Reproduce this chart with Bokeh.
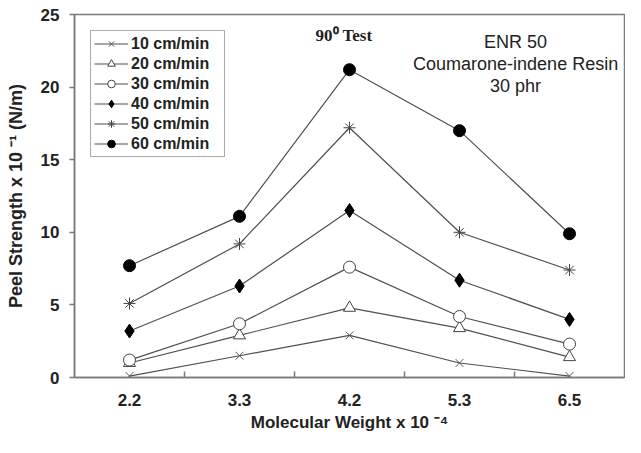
from bokeh.plotting import figure
from bokeh.models import Range1d, FixedTicker, Legend, LegendItem, Label
from bokeh.embed import file_html
from bokeh.resources import INLINE

categories = ["2.2", "3.3", "4.2", "5.3", "6.5"]
series_labels = ["10 cm/min", "20 cm/min", "30 cm/min", "40 cm/min", "50 cm/min", "60 cm/min"]
v10 = [0.1, 1.5, 2.9, 1.0, 0.1]
v20 = [1.0, 2.9, 4.8, 3.4, 1.4]
v30 = [1.2, 3.7, 7.6, 4.2, 2.3]
v40 = [3.2, 6.3, 11.5, 6.7, 4.0]
v50 = [5.1, 9.2, 17.2, 10.0, 7.4]
v60 = [7.7, 11.1, 21.2, 17.0, 9.9]
y_ticks = [0, 5, 10, 15, 20, 25]

FONT = "Liberation Sans"
TXT = "#222222"
AX = "#7a7a7a"

xs = [i + 0.5 for i in range(len(categories))]
bounds = [i for i in range(1, len(categories))]

p = figure(width=625, height=437, output_backend="svg", toolbar_location=None,
           x_range=Range1d(0, len(categories)), y_range=Range1d(0, 25),
           min_border_left=74, min_border_right=1, min_border_top=14, min_border_bottom=60)

p.xgrid.visible = False
p.ygrid.visible = False
p.outline_line_color = AX
p.outline_line_width = 1.5
p.background_fill_color = "white"
p.border_fill_color = "white"

# x axis
xa = p.xaxis[0]
xa.ticker = FixedTicker(ticks=xs, minor_ticks=bounds)
xa.major_label_overrides = {x: c for x, c in zip(xs, categories)}
xa.major_tick_in = 0
xa.major_tick_out = 0
xa.minor_tick_in = 6
xa.minor_tick_out = 0
xa.minor_tick_line_color = AX
xa.minor_tick_line_width = 1.5
xa.axis_line_color = AX
xa.axis_line_width = 1.5
xa.major_label_standoff = 16
xa.major_label_text_font = FONT
xa.major_label_text_font_style = "bold"
xa.major_label_text_font_size = "17px"
xa.major_label_text_color = TXT
xa.axis_label = "Molecular Weight x 10 \u207b\u2074"
xa.axis_label_text_font = FONT
xa.axis_label_text_font_style = "bold"
xa.axis_label_text_font_size = "17px"
xa.axis_label_text_color = TXT
xa.axis_label_standoff = 4

# y axis
ya = p.yaxis[0]
ya.ticker = FixedTicker(ticks=y_ticks)
ya.major_tick_in = 0
ya.major_tick_out = 5
ya.minor_tick_line_color = None
ya.major_tick_line_color = AX
ya.major_tick_line_width = 1.5
ya.axis_line_color = AX
ya.axis_line_width = 1.5
ya.major_label_standoff = 10
ya.major_label_text_font = FONT
ya.major_label_text_font_style = "bold"
ya.major_label_text_font_size = "17px"
ya.major_label_text_color = TXT
ya.axis_label = "Peel Strength x 10 \u207b\u00b9 (N/m)"
ya.axis_label_text_font = FONT
ya.axis_label_text_font_style = "bold"
ya.axis_label_text_font_size = "18px"
ya.axis_label_text_color = TXT
ya.axis_label_standoff = 12

series = [v10, v20, v30, v40, v50, v60]
styles = [
    dict(marker="x", size=11, line_color="#555555", fill_color=None, line_width=1),
    dict(marker="triangle", size=12, line_color="#444444", fill_color="white", line_width=1),
    dict(marker="circle", size=12, line_color="#444444", fill_color="white", line_width=1),
    dict(marker="diamond", size=14, line_color="black", fill_color="black", line_width=1),
    dict(marker="asterisk", size=12, line_color="#444444", fill_color=None, line_width=1),
    dict(marker="circle", size=12, line_color="black", fill_color="black", line_width=1),
]

lines = []
for vals in series:
    lines.append(p.line(xs, vals, line_color="#505050", line_width=1.2))
markers = []
for vals, st in zip(series, styles):
    markers.append(p.scatter(xs, vals, **st))

items = [LegendItem(label=lab, renderers=[l, m]) for lab, l, m in zip(series_labels, lines, markers)]
legend = Legend(items=items, location="top_left", margin=16, padding=3,
                glyph_width=34, glyph_height=19, label_height=19, label_width=90,
                label_standoff=3, spacing=1,
                label_text_font=FONT, label_text_font_style="bold",
                label_text_font_size="16px", label_text_color=TXT,
                border_line_color="#555555", border_line_width=1.3,
                background_fill_color="white", background_fill_alpha=1)
p.add_layout(legend, "center")

p.add_layout(Label(x=2.45, y=23.55, text="90\u2070 Test", text_font="Liberation Serif",
                   text_font_style="bold", text_font_size="17px", text_color=TXT,
                   text_align="center", text_baseline="middle"))
note_lines = ["ENR 50", "Coumarone-indene Resin", "30 phr"]
note_y = [23.1, 21.6, 20.1]
for t, yy in zip(note_lines, note_y):
    p.add_layout(Label(x=4.01, y=yy, text=t, text_font=FONT, text_font_size="18px",
                       text_color=TXT, text_align="center", text_baseline="middle"))

open("out.html", "w").write(file_html(p, INLINE))
